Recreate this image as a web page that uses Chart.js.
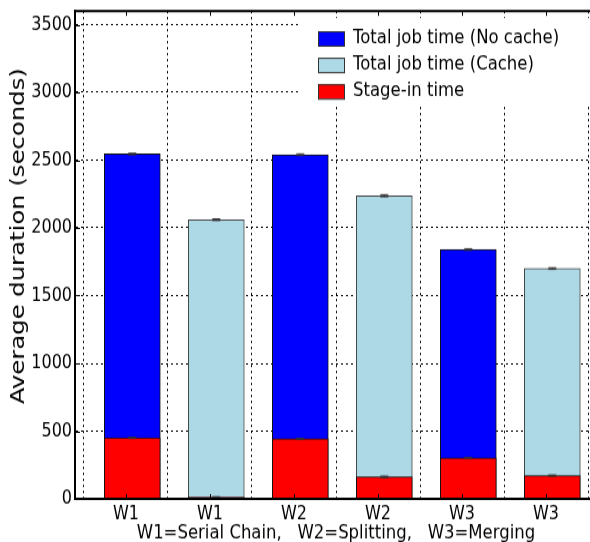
<!DOCTYPE html>
<html>
<head>
<meta charset="utf-8">
<script src="https://cdn.jsdelivr.net/npm/chart.js@4.4.0/dist/chart.umd.min.js"></script>
<style>
  html { overflow: hidden; }
  html, body { margin: 0; padding: 0; background: #fff; }
  body { width: 590px; height: 542px; }
  /* the source figure is stretched vertically, so the canvas is too */
  #wrap { width: 600px; height: 452px; transform: scaleY(1.1991); transform-origin: 0 0; }
</style>
</head>
<body>
<div id="wrap"><canvas id="myChart" width="600" height="452"></canvas></div>
<script>
const categories = ['W1', 'W1', 'W2', 'W2', 'W3', 'W3'];
const noCache = [2545, null, 2540, null, 1840, null];
const noCacheErr = [6, null, 6, null, 6, null];
const cache = [null, 2060, null, 2237, null, 1700];
const cacheErr = [null, 6, null, 8, null, 6];
const stageIn = [450, 12, 443, 162, 303, 172];
const stageInErr = [4, 4, 4, 6, 3, 4];
const yTicks = [0, 500, 1000, 1500, 2000, 2500, 3000, 3500];
const xTitle = 'W1=Serial Chain,   W2=Splitting,   W3=Merging';
const yTitle = 'Average duration (seconds)';

const font = 'DejaVu Sans';
const barShift = 0.075; // bars sit a little right of their tick, as in the original

function points(arr) {
  return arr.map((v, i) => v == null ? null : { x: i + barShift, y: v }).filter(p => p);
}

// error bars, frame, inside ticks, legend and y title
const extras = {
  id: 'extras',
  afterDatasetsDraw(chart) {
    const ctx = chart.ctx;
    const xs = chart.scales.x, ys = chart.scales.y;
    ctx.save();
    ctx.strokeStyle = '#333';
    ctx.lineWidth = 1;
    chart.data.datasets.forEach(ds => {
      ds.data.forEach(p => {
        const e = ds.err[Math.round(p.x)];
        if (e == null) return;
        const px = xs.getPixelForValue(p.x);
        const y1 = ys.getPixelForValue(p.y - e), y2 = ys.getPixelForValue(p.y + e);
        ctx.beginPath();
        ctx.moveTo(px, y1); ctx.lineTo(px, y2);
        ctx.moveTo(px - 4, y1); ctx.lineTo(px + 4, y1);
        ctx.moveTo(px - 4, y2); ctx.lineTo(px + 4, y2);
        ctx.stroke();
      });
    });
    ctx.restore();
  },
  afterDraw(chart) {
    const ctx = chart.ctx;
    const a = chart.chartArea;
    const xs = chart.scales.x, ys = chart.scales.y;
    ctx.save();
    // inside ticks
    ctx.strokeStyle = '#000';
    ctx.lineWidth = 1;
    ctx.beginPath();
    categories.forEach((c, i) => {
      const px = Math.round(xs.getPixelForValue(i)) + 0.5;
      ctx.moveTo(px, a.top); ctx.lineTo(px, a.top + 4);
      ctx.moveTo(px, a.bottom); ctx.lineTo(px, a.bottom - 4);
    });
    yTicks.forEach(v => {
      const py = Math.round(ys.getPixelForValue(v)) + 0.5;
      ctx.moveTo(a.left, py); ctx.lineTo(a.left + 5, py);
      ctx.moveTo(a.right, py); ctx.lineTo(a.right - 5, py);
    });
    ctx.stroke();

    // legend
    ctx.fillStyle = '#fff';
    ctx.fillRect(298, 15, a.right - 300, 74);
    ctx.font = '16.5px "' + font + '"';
    ctx.textBaseline = 'middle';
    chart.data.datasets.forEach((ds, i) => {
      const y = 26 + i * 22.1;
      ctx.fillStyle = ds.backgroundColor;
      ctx.fillRect(318, y, 26, 12);
      ctx.strokeStyle = '#333';
      ctx.strokeRect(318.5, y + 0.5, 26, 12);
      ctx.fillStyle = '#000';
      ctx.fillText(ds.label, 353, y + 5.5);
    });

    // y title
    ctx.save();
    ctx.translate(19, 197);
    ctx.rotate(-Math.PI / 2);
    ctx.textAlign = 'center';
    ctx.textBaseline = 'middle';
    ctx.font = '20.3px "' + font + '"';
    ctx.fillText(yTitle, 0, 0);
    ctx.restore();

    // frame
    ctx.strokeStyle = '#000';
    ctx.lineWidth = 2;
    ctx.strokeRect(a.left, a.top, a.right - a.left, a.bottom - a.top);
    ctx.restore();
  }
};

new Chart('myChart', {
  type: 'bar',
  data: {
    datasets: [{
      label: 'Total job time (No cache)',
      data: points(noCache),
      err: noCacheErr,
      backgroundColor: '#0000ff',
      borderColor: '#111',
      order: 2
    }, {
      label: 'Total job time (Cache)',
      data: points(cache),
      err: cacheErr,
      backgroundColor: '#add8e6',
      borderColor: '#444',
      order: 2
    }, {
      label: 'Stage-in time',
      data: points(stageIn),
      err: stageInErr,
      backgroundColor: '#ff0000',
      borderColor: '#111',
      order: 1
    }]
  },
  options: {
    responsive: false,
    animation: false,
    grouped: false,
    barThickness: 56,
    borderWidth: 1,
    layout: { padding: { top: 9.2, right: 3, left: 0, bottom: 0 } },
    plugins: {
      legend: { display: false },
      tooltip: { enabled: false }
    },
    scales: {
      x: {
        type: 'linear',
        min: -0.607,
        max: 5.607,
        offset: false,
        z: 1,
        afterFit: s => { s.height = 36; s.paddingLeft = 0; s.paddingRight = 0; },
        afterBuildTicks: s => { s.ticks = categories.map((c, i) => ({ value: i })); },
        ticks: {
          callback: v => categories[v],
          color: '#000',
          padding: 3,
          font: { family: font, size: 16 }
        },
        grid: { color: '#000', lineWidth: 1, drawTicks: false },
        border: { color: '#000', width: 2, dash: [2, 3] },
        title: {
          display: true,
          text: xTitle,
          color: '#000',
          padding: { top: 2.5, bottom: -2.5 },
          font: { family: font, size: 16.5 }
        }
      },
      y: {
        min: 0,
        max: 3600,
        z: 1,
        afterFit: s => { s.width = 75; s.paddingTop = 0; s.paddingBottom = 0; },
        afterBuildTicks: s => { s.ticks = yTicks.map(v => ({ value: v })); },
        ticks: {
          callback: v => String(v),
          color: '#000',
          padding: 3,
          font: { family: font, size: 16 }
        },
        grid: { color: '#000', lineWidth: 1, drawTicks: false },
        border: { color: '#000', width: 2, dash: [2, 3] }
      }
    }
  },
  plugins: [extras]
});
</script>
</body>
</html>
